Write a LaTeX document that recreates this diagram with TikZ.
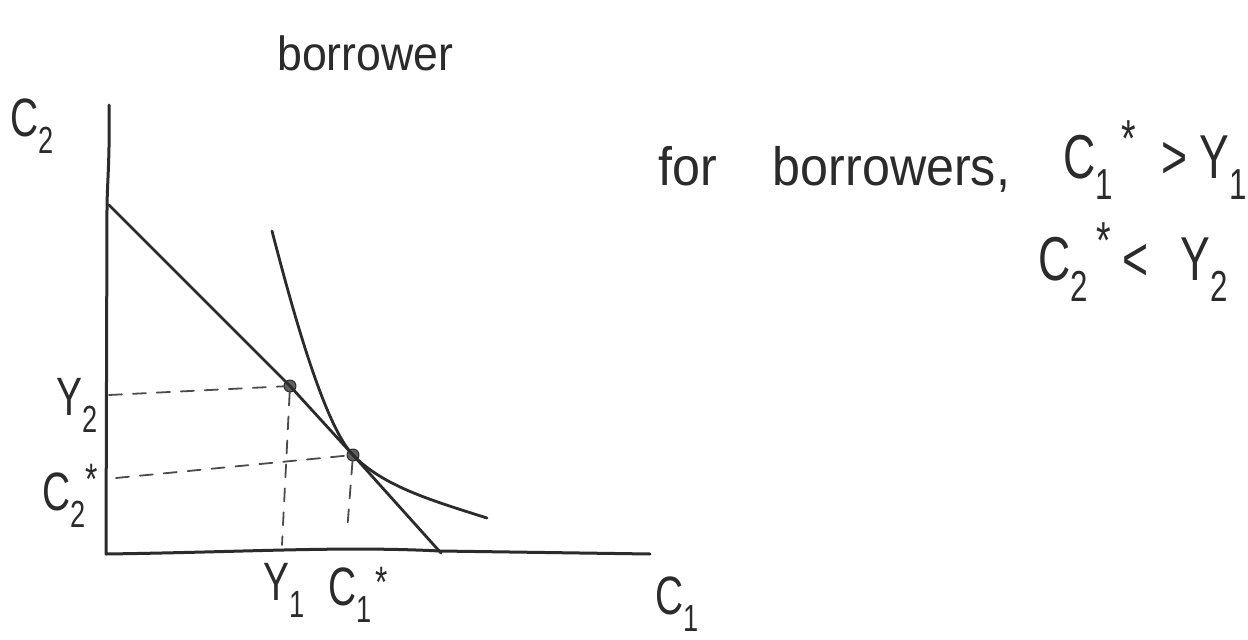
\documentclass[tikz,border=0pt]{standalone}
\usepackage{fontspec}
\newfontfamily\handU[FakeStretch=0.72]{Liberation Sans}
\newfontfamily\handL[FakeStretch=0.93]{Liberation Sans}
\definecolor{ink}{HTML}{2B2B2B}
\newcommand\hstar[2]{\raisebox{#1}{\fontsize{#2}{#2}\selectfont *}}
\begin{document}
\begin{tikzpicture}[x=1pt,y=-1pt, line cap=round, line join=round,
  axis/.style={ink, line width=3pt},
  curve/.style={ink, line width=2.8pt},
  guide/.style={ink!85, line width=1.8pt, dash pattern=on 13pt off 11pt},
  pt/.style={circle, fill=ink!75, draw=ink, line width=1pt, minimum size=12pt, inner sep=0pt},
  lab/.style={text=ink, inner sep=0pt, anchor=base west},
  lc/.style={font=\handL\fontsize{48}{48}\selectfont},
  uc/.style={font=\handU\fontsize{62}{62}\selectfont},
  ax/.style={font=\handU\fontsize{54}{54}\selectfont},
  ]
\useasboundingbox[fill=white] (0,0) rectangle (1248,640);

% axes
\coordinate (yTop) at (109,105);
\coordinate (O) at (106,554);
\coordinate (xEnd) at (650,554);
\draw[axis] (yTop) .. controls (110,160) and (107,185) .. (107,210) -- (O)
  .. controls (250,552) and (340,546) .. (440,551) -- (xEnd);

% points
\node[pt] (d1) at (290,386) {};
\node[pt] (d2) at (353,455) {};

% budget line
\coordinate (bTop) at (109,205);
\coordinate (bBot) at (441,553);
\draw[curve] (bTop) -- (d1.center) -- (d2.center) -- (bBot);

% indifference curve
\coordinate (iTop) at (272,231);
\coordinate (iBot) at (487,518);
\draw[curve] (iTop) .. controls (290,300) and (323,424) .. (d2.center)
  .. controls (383,486) and (430,500) .. (iBot);

% guide lines
\coordinate (y2ax) at (109,395);
\coordinate (y1ax) at (282,545);
\coordinate (c2ax) at (116,478);
\coordinate (c1ax) at (347,532);
\draw[guide] (y2ax) -- (d1);
\draw[guide] (d1) -- (y1ax);
\draw[guide] (c2ax) -- (d2);
\draw[guide] (d2) -- (c1ax);

% labels
\node[lab, lc] (title) at (277,70) {borrower};
\node[lab, ax] (c2lab) at (10,136) {C\textsubscript{2}};
\node[lab, ax] (y2lab) at (56,415) {Y\textsubscript{2}};
\node[lab, ax] (c2slab) at (42,510) {C\textsubscript{2}\hstar{16pt}{44}};
\node[lab, ax] (y1lab) at (263,600) {Y\textsubscript{1}};
\node[lab, ax] (c1slab) at (328,605) {C\textsubscript{1}\kern4pt\hstar{8pt}{44}};
\node[lab, ax] (c1lab) at (655,614) {C\textsubscript{1}};

% statement
\node[lab, font=\handL\fontsize{54}{54}\selectfont] (forb) at (658,185) {for\hspace{56pt}borrowers,};
\node[lab, uc] (ineq1) at (1063,178) {C\textsubscript{1}\kern8pt\hstar{22pt}{52}\kern26pt>\kern12pt Y\textsubscript{1}};
\node[lab, uc] (ineq2) at (1038,280) {C\textsubscript{2}\kern8pt\hstar{22pt}{52}\kern12pt<\kern32pt Y\textsubscript{2}};
\end{tikzpicture}
\end{document}
